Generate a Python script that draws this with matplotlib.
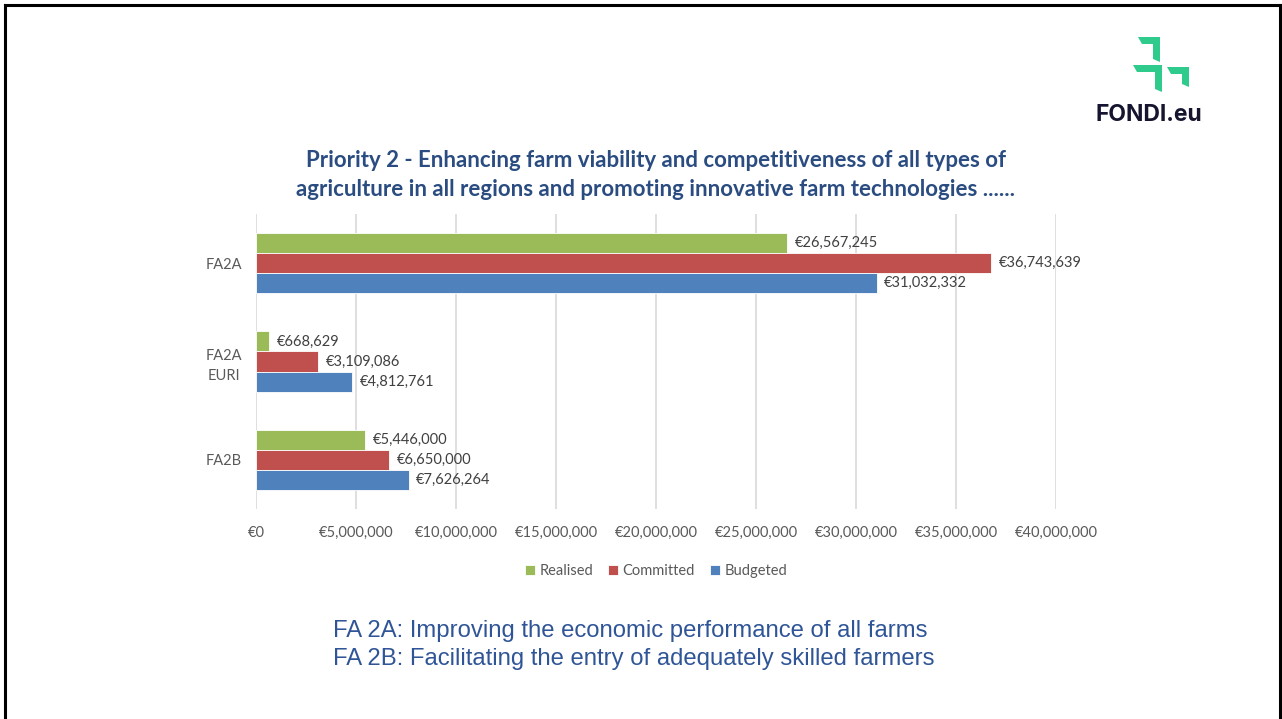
import numpy as np
import matplotlib.pyplot as plt
from matplotlib.patches import Polygon
from matplotlib.lines import Line2D
from matplotlib.ticker import FuncFormatter

categories = ["FA2A", "FA2A\nEURI", "FA2B"]
realised = [26567245, 668629, 5446000]
committed = [36743639, 3109086, 6650000]
budgeted = [31032332, 4812761, 7626264]
series_names = ["Realised", "Committed", "Budgeted"]
series_colors = ["#9BBB59", "#C0504D", "#4F81BD"]

title = ("Priority 2 - Enhancing farm viability and competitiveness of all types of\n"
         "agriculture in all regions and promoting innovative farm technologies ......")
notes = ["FA 2A: Improving the economic performance of all farms",
         "FA 2B: Facilitating the entry of adequately skilled farmers"]

W, H = 1282, 719
fig = plt.figure(figsize=(W / 100, H / 100), dpi=100)
fig.patch.set_facecolor("white")

ax = fig.add_axes([256 / W, 1 - 509 / H, 800 / W, 295 / H])

y = np.arange(len(categories))
bh = 20 / 98
series = [realised, committed, budgeted]
for i, (vals, name, col) in enumerate(zip(series, series_names, series_colors)):
    pos = y + (i - 1) * bh
    ax.barh(pos, vals, height=bh, color=col, label=name,
            edgecolor="white", linewidth=0.6, zorder=3)
    for p, v in zip(pos, vals):
        ax.text(v + 380000, p, "€{:,}".format(v), va="center", ha="left",
                fontsize=10.5, color="#404040", family="Lato")

ax.set_xlim(0, 40000000)
ax.set_ylim(len(categories) - 0.5, -0.5)
ax.set_xticks(np.arange(0, 40000001, 5000000))
ax.xaxis.set_major_formatter(FuncFormatter(lambda v, p: "€{:,}".format(int(v))))
ax.set_yticks(y)
ax.set_yticklabels(categories, ha="center", multialignment="center",
                   linespacing=1.5)
for lab in ax.get_xticklabels() + ax.get_yticklabels():
    lab.set_family("Lato")
    lab.set_fontsize(10.5)
    lab.set_color("#595959")
ax.tick_params(axis="y", length=0, pad=23)
ax.tick_params(axis="x", length=0, pad=12)
for s in ax.spines.values():
    s.set_visible(False)
ax.grid(axis="x", color="#D9D9D9", linewidth=1.2, zorder=0)
ax.set_axisbelow(True)

leg = ax.legend(loc="center", bbox_to_anchor=(0.5, -0.21), ncol=3, frameon=False,
                handlelength=0.7, handleheight=0.7, handletextpad=0.3,
                columnspacing=1.0, prop={"family": "Lato", "size": 10.5})
for t in leg.get_texts():
    t.set_color("#595959")

fig.text(656 / W, 1 - 175 / H, title, ha="center", va="center",
         fontsize=16, fontweight="bold", color="#2A4C80", family="Lato",
         linespacing=1.45)

fig.text(333 / W, 1 - 631 / H, notes[0], ha="left", va="center",
         fontsize=17.2, color="#2F5597", family="Liberation Sans")
fig.text(333 / W, 1 - 659 / H, notes[1], ha="left", va="center",
         fontsize=17.2, color="#2F5597", family="Liberation Sans")

# logo
green = "#2FCB8C"
def corner(x0, x1, y0, y1, t):
    pts = [(x0, y0), (x1, y0), (x1, y1), (x1 - t, y1 - 3), (x1 - t, y0 + t),
           (x0 + 4, y0 + t)]
    return Polygon([(px / W, 1 - py / H) for px, py in pts], closed=True,
                   transform=fig.transFigure, facecolor=green, edgecolor="none")
fig.patches.append(corner(1138, 1160, 37, 62, 7))
fig.patches.append(corner(1133, 1162, 65, 92, 7))
fig.patches.append(corner(1167, 1189, 67, 87, 7))
fig.text(1149 / W, 1 - 115 / H, "FONDI.eu", ha="center", va="center",
         fontsize=16.5, fontweight="bold", color="#15152F", family="Inter")

# slide border
lw = 2.2
fig.lines.append(Line2D([5 / W, 1280 / W], [1 - 5 / H, 1 - 5 / H],
                        transform=fig.transFigure, color="black", linewidth=lw))
fig.lines.append(Line2D([5 / W, 5 / W], [0, 1 - 5 / H],
                        transform=fig.transFigure, color="black", linewidth=lw))
fig.lines.append(Line2D([1280 / W, 1280 / W], [0, 1 - 5 / H],
                        transform=fig.transFigure, color="black", linewidth=lw))

fig.savefig("out.png", dpi=100)
